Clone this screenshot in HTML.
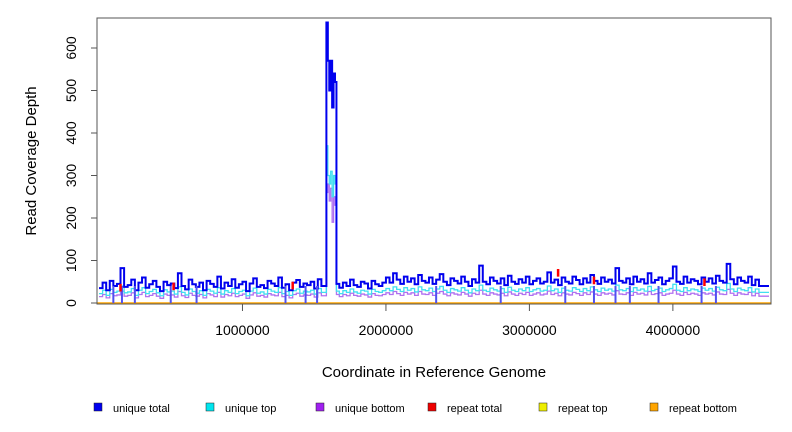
<!DOCTYPE html>
<html><head><meta charset="utf-8"><style>
body{margin:0;background:#fff;}
svg{display:block;font-family:"Liberation Sans",sans-serif;}
</style></head><body>
<svg id="chart" width="792" height="432"></svg>
<script>
const baseStep = 25000;
const uniqueTotal = [35,48,30,52,40,45,82,38,42,55, 30,48,60,36,44,52,38,28,50,42,
 46,35,70,40,32,55,44,38,48,30, 52,45,38,62,34,48,40,56,36,44,
 50,28,46,58,38,42,35,52,46,40, 60,36,44,30,48,54,38,46,42,50,
 34,56,40,46,38,52,44,36,48,40, 55,42,38,50,46,34,52,44,40,48,
 60,48,70,55,45,62,50,58,44,66, 52,48,60,45,55,68,50,42,58,52,
 46,62,50,40,56,48,88,50,44,60, 52,46,58,42,64,50,45,56,48,62,
 44,52,58,46,50,72,48,55,42,60, 50,46,62,54,44,58,48,66,52,45,
 60,50,55,46,82,52,48,58,44,62, 50,56,46,70,48,54,60,44,52,58,
 86,50,45,62,48,56,52,44,60,50, 58,46,64,52,48,92,56,44,60,52,
 48,62,42,55,40];
const uniqueTop = [22,30,18,32,25,28,40,24,26,34, 18,30,36,22,27,32,24,17,31,26,
 28,21,38,25,19,33,27,23,29,18, 32,28,23,36,21,29,25,34,22,27,
 30,17,28,35,23,26,21,32,28,25, 36,22,27,18,29,33,23,28,26,30,
 21,34,25,28,23,32,27,22,29,25, 33,26,23,30,28,21,32,27,25,29,
 34,29,38,32,27,36,30,34,26,38, 31,29,35,27,33,39,30,25,34,31,
 28,36,30,24,33,29,42,30,27,35, 31,28,34,25,37,30,27,33,29,36,
 27,31,34,28,30,40,29,33,25,35, 30,28,36,32,27,34,29,38,31,27,
 35,30,33,28,42,31,29,34,27,36, 30,33,28,39,29,32,35,27,31,34,
 44,30,27,36,29,33,31,27,35,30, 34,28,37,31,29,46,33,27,35,31,
 29,36,26,33,25];
const uniqueBottom = [15,20,12,22,17,19,28,16,18,24, 12,20,25,15,18,22,16,11,21,18,
 19,14,27,17,13,23,18,16,20,12, 22,19,15,25,14,20,17,23,15,18,
 21,11,19,24,16,18,14,22,19,17, 25,15,18,12,20,23,16,19,18,21,
 14,24,17,19,16,22,18,15,20,17, 23,18,16,21,19,14,22,18,17,20,
 24,20,27,22,18,25,21,24,18,27, 21,20,24,18,23,27,21,17,24,21,
 19,25,21,16,23,20,30,21,18,24, 21,19,23,17,26,21,18,23,20,25,
 18,21,24,19,21,28,20,23,17,24, 21,19,25,22,18,24,20,26,21,18,
 24,21,23,19,29,21,20,24,18,25, 21,23,19,27,20,22,24,18,21,23,
 30,21,18,25,20,23,21,18,24,21, 23,19,26,21,20,32,23,18,24,21,
 20,25,17,23,16];
const spikeX = [1585000,1595000,1605000,1615000,1625000,1635000,1645000,1655000];
const spikeTotal = [660,570,500,570,460,540,520,45];
const spikeTop = [370,300,280,310,250,300,280,28];
const spikeBottom = [260,280,240,270,190,250,230,20];
const dipX = [100000,160000,250000,500000,680000,1300000,1440000,1520000,2350000,2800000,3250000,3450000,3600000,3700000,3900000,4200000,4300000];
const repeatX = [150000,520000,1350000,3200000,3450000,4220000];
const repeatVal = [45,48,50,80,62,58];
const yTicks = [0,100,200,300,400,500,600];
const xTicks = [1000000,2000000,3000000,4000000];
const xTickLabels = ["1000000","2000000","3000000","4000000"];

const L=97,R=771,T=18,B=304;
const xMax=4670000;
const X=v=>L+2+v/xMax*(R-L-4);
const Y=v=>303-v*0.425;
const svg=document.getElementById('chart');
const NS='http://www.w3.org/2000/svg';
function mk(tag,attrs,parent){const e=document.createElementNS(NS,tag);for(const k in attrs)e.setAttribute(k,attrs[k]);(parent||svg).appendChild(e);return e;}

function series(vals,spk){
  const pts=[];
  vals.forEach((v,i)=>{const x=i*baseStep;if(x<1575000||x>1665000)pts.push([x,v]);});
  spikeX.forEach((x,i)=>pts.push([x,spk[i]]));
  pts.sort((a,b)=>a[0]-b[0]);
  let d='';
  pts.forEach((p,i)=>{const x=X(p[0]),y=Y(p[1]);if(i===0)d+='M'+x+' '+y;else d+='H'+x+'V'+y;});
  d+='H'+X(xMax);
  return d;
}
const rb=mk('line',{x1:L,x2:R,y1:303,y2:303,stroke:'#ffa500','stroke-width':1.5});

const sb=mk('path',{d:series(uniqueBottom,spikeBottom),fill:'none',stroke:'#b070f0','stroke-width':1.3});

const st=mk('path',{d:series(uniqueTop,spikeTop),fill:'none',stroke:'#40e0f0','stroke-width':1.3});

const tt=mk('path',{d:series(uniqueTotal,spikeTotal),fill:'none',stroke:'#0000ee','stroke-width':2});

dipX.forEach(x=>{const l=mk('line',{x1:X(x),x2:X(x),y1:Y(40),y2:303,stroke:'#5050f0','stroke-width':2});
});
repeatX.forEach((x,i)=>{const l=mk('line',{x1:X(x),x2:X(x),y1:Y(repeatVal[i]),y2:Y(repeatVal[i]-18),stroke:'#ff0000','stroke-width':2.5});
});

const box=mk('rect',{x:L,y:T,width:R-L,height:B-T,fill:'none',stroke:'#555','stroke-width':1});

yTicks.forEach(v=>{const y=Y(v);
 const t=mk('line',{x1:L-6,x2:L,y1:y,y2:y,stroke:'#555'});
 const tx=mk('text',{transform:`translate(76,${y}) rotate(-90)`,'text-anchor':'middle','font-size':14});tx.textContent=v;
 });
xTicks.forEach((v,i)=>{const x=X(v);
 const t=mk('line',{x1:x,x2:x,y1:B,y2:B+7,stroke:'#555'});
 const tx=mk('text',{x:x,y:335,'text-anchor':'middle','font-size':14});tx.textContent=xTickLabels[i];
 });
const yt=mk('text',{transform:'translate(36,161) rotate(-90)','text-anchor':'middle','font-size':15});yt.textContent='Read Coverage Depth';

const xt=mk('text',{x:434,y:377,'text-anchor':'middle','font-size':15});xt.textContent='Coordinate in Reference Genome';


const legNames=['unique total','unique top','unique bottom','repeat total','repeat top','repeat bottom'];
const legColors=['#0000ee','#00e5ee','#a020f0','#ee0000','#eeee00','#ffa500'];
const legX=[94,206,316,428,539,650];
legNames.forEach((n,i)=>{
 const g=mk('g',{});
 mk('rect',{x:legX[i],y:403,width:8,height:8,fill:legColors[i],stroke:'#222','stroke-width':0.5},g);
 const t=mk('text',{x:legX[i]+19,y:412,'font-size':11},g);t.textContent=n;
});
</script>
</body></html>
